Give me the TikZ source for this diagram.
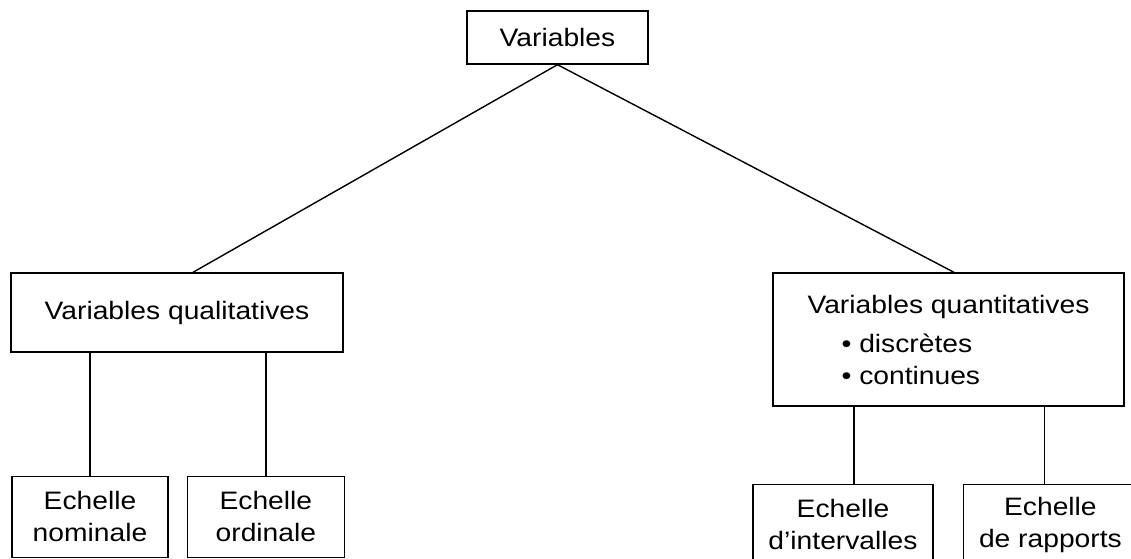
\documentclass[tikz,border=0pt]{standalone}
\usepackage{fontspec}
\setmainfont[FakeStretch=1.12]{Liberation Sans}
\usepackage{tikz}
\usetikzlibrary{positioning}

\begin{document}
\begin{tikzpicture}[x=0.5pt, y=-0.5pt, every node/.style={font=\fontsize{12.6}{16}\selectfont},
  box/.style={draw, line width=0.7pt, align=center, inner sep=0pt},
  link/.style={line width=0.7pt}]
\useasboundingbox (0,0) rectangle (1131,558);
\node[box, minimum width=90.5pt, minimum height=26.5pt] (vars) at (557.5,37.5) {Variables};
\node[box, minimum width=166pt, minimum height=39.5pt] (qual) at (177,312.5) {Variables qualitatives};
\node[box, align=left, minimum width=175.5pt, minimum height=66.5pt] (quant) at (948.5,339.5)
  {Variables quantitatives\\[3.5pt]\hspace*{17pt}\textbullet\ discrètes\\\hspace*{17pt}\textbullet\ continues};
\node[box, minimum width=78pt, minimum height=40.5pt, below=61.5pt of qual.south west, anchor=north west, xshift=0.5pt] (nom) {Echelle\\nominale};
\node[box, minimum width=78.5pt, minimum height=40.5pt, right=9pt of nom] (ord) {Echelle\\ordinale};
\node[box, minimum width=90pt, minimum height=40.5pt, below=38.5pt of quant.south west, anchor=north west, xshift=-10pt] (intv) {Echelle\\d’intervalles};
\node[box, minimum width=87pt, minimum height=40.5pt, right=14.5pt of intv] (rap) {Echelle\\de rapports};
\draw[link] (vars.south) -- ([xshift=8pt]qual.north); \draw[link] (vars.south) -- ([xshift=2.75pt]quant.north);
\draw[link] (nom.north |- qual.south) -- (nom.north); \draw[link] (ord.north |- qual.south) -- (ord.north);
\draw[link] ([xshift=5.5pt]intv.north |- quant.south) -- ([xshift=5.5pt]intv.north);
\draw[link] ([xshift=-3pt]rap.north |- quant.south) -- ([xshift=-3pt]rap.north);
\end{tikzpicture}
\end{document}
